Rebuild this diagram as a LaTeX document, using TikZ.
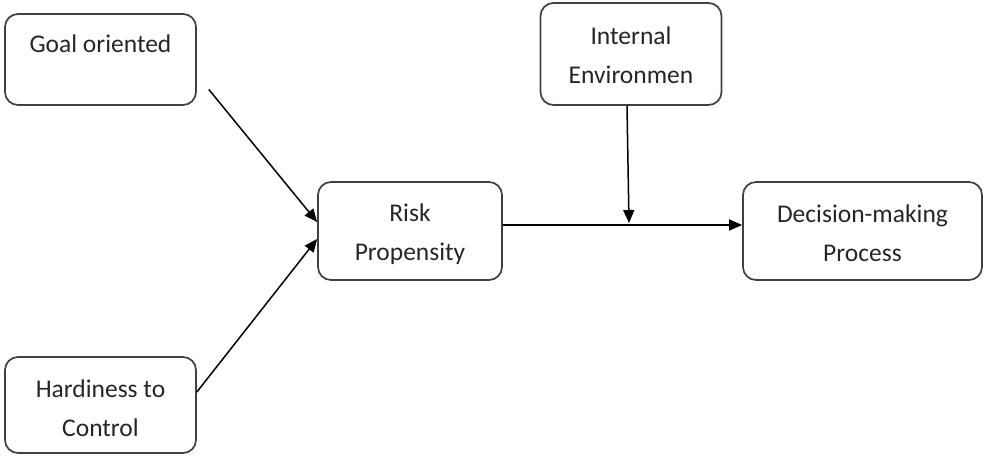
\documentclass[tikz,border=0pt]{standalone}
\usepackage{fontspec}
\setmainfont{Carlito}
\usetikzlibrary{arrows.meta}
\begin{document}
\begin{tikzpicture}[x=1pt,y=-1pt,
  box/.style={draw=black!75, line width=1.7pt, rounded corners=13pt, inner sep=0pt},
  txt/.style={text=black!85, inner sep=0pt, align=center,
    font=\fontsize{25.5}{39}\selectfont},
  arr/.style={draw=black, line width=1.5pt,
    -{Triangle[length=13pt,width=11pt]}}]
\useasboundingbox (0,0) rectangle (983,457);
% boxes
\node[box, minimum width=191pt, minimum height=91pt] (goal) at (100.5,59.5) {};
\node[box, minimum width=191pt, minimum height=96pt] (hard) at (100.5,405) {};
\node[box, minimum width=184pt, minimum height=98pt] (risk) at (410,231) {};
\node[box, minimum width=181pt, minimum height=102pt] (int) at (631,54) {};
\node[box, minimum width=239pt, minimum height=98pt] (dec) at (862.5,231) {};
% box texts
\node[txt] (goaltext) at ([yshift=-31pt]goal.north) {Goal oriented};
\node[txt] (hardtext) at ([yshift=-3pt]hard.center) {Hardiness to\\Control};
\node[txt] (risktext) at ([yshift=-3pt]risk.center) {Risk\\Propensity};
\node[txt] (inttext) at ([yshift=-1pt]int.center) {Internal\\Environmen};
\node[txt] (dectext) at ([yshift=-2pt]dec.center) {Decision-making\\Process};
% connectors
\coordinate (gstart) at ([xshift=12pt,yshift=-30pt]goal.east);
\coordinate (join) at (629,225);
\draw[arr] (gstart) -- ([yshift=9pt]risk.west);
\draw[arr] ([yshift=13pt]hard.east) -- ([yshift=-8pt]risk.west);
\draw[arr] ([yshift=6pt]risk.east) -- ([yshift=6pt]dec.west);
\draw[arr] ([xshift=-4pt]int.south) -- ([yshift=2pt]join);
\end{tikzpicture}
\end{document}
